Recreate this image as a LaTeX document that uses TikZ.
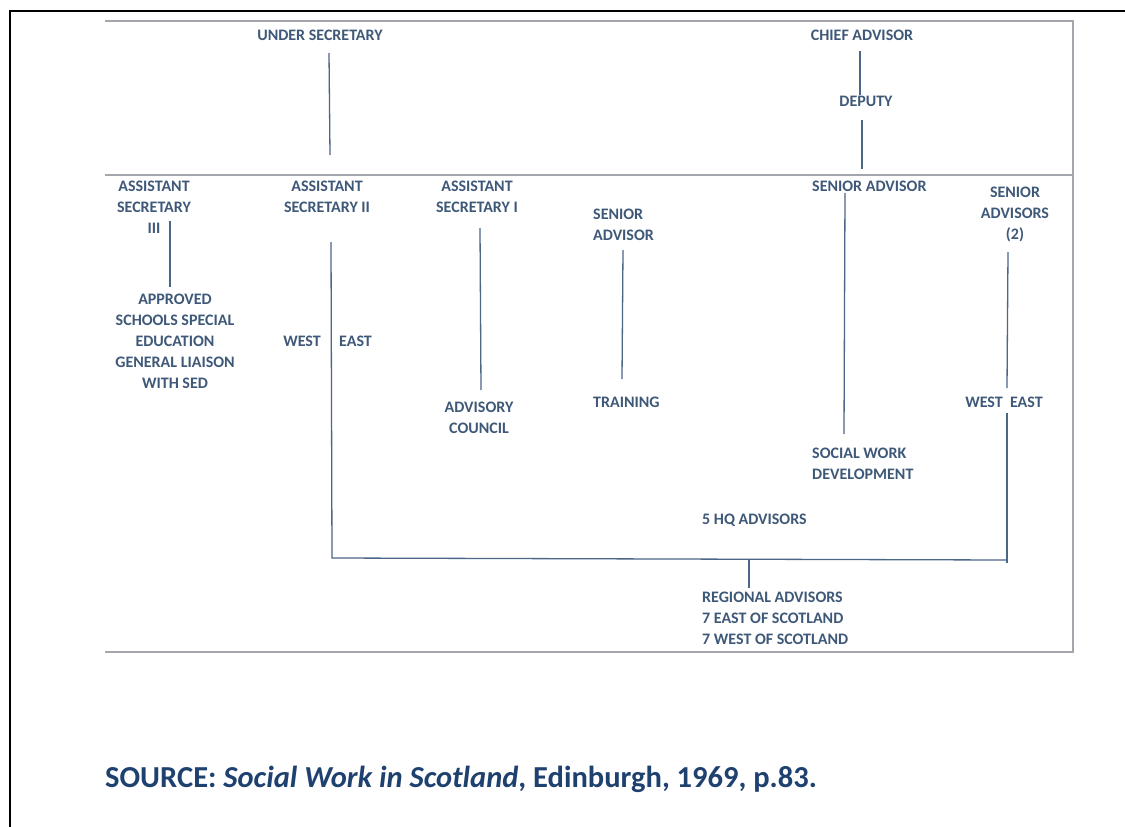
\documentclass[tikz,border=0pt]{standalone}
\usepackage{fontspec}
\setmainfont{Carlito}
\definecolor{txt}{HTML}{3E5878}
\definecolor{ln}{HTML}{4B6687}
\definecolor{frm}{HTML}{A3A7AD}
\definecolor{src}{HTML}{1F4170}
\tikzset{
  lbl/.style={font=\bfseries\fontsize{16}{21}\selectfont, text=txt, align=center, inner sep=0pt},
  srcfont/.style={font=\bfseries\fontsize{30.5}{34}\selectfont, text=src, inner sep=0pt},
  conn/.style={draw=ln, line width=1.3pt},
  panel/.style={draw=frm, line width=1.1pt},
  outer/.style={draw=black, line width=2pt}
}
\begin{document}
\begin{tikzpicture}[x=1pt,y=-1pt]
\useasboundingbox (0,0) rectangle (1125,827);
% outer frame
\draw[outer] (10,11) -- (1125,11);
\draw[outer] (10,10) -- (10,827);
% panel
\draw[panel] (105,21) -- (1073,21) -- (1073,652) -- (105,652);
\draw[panel] (105,175) -- (1073,175);
% labels
\node[lbl] (us) at (320,35) {UNDER SECRETARY};
\node[lbl] (ca) at (862,35) {CHIEF ADVISOR};
\node[lbl] (dep) at (866,101) {DEPUTY};
\node[lbl] (as3) at (154,207) {ASSISTANT\\SECRETARY\\III};
\node[lbl] (appr) at (175,341) {APPROVED\\SCHOOLS SPECIAL\\EDUCATION\\GENERAL LIAISON\\WITH SED};
\node[lbl] (as2) at (327,197) {ASSISTANT\\SECRETARY II};
\node[lbl, anchor=east] (west1) at (321,341) {WEST};
\node[lbl, anchor=west] (east1) at (339,341) {EAST};
\node[lbl] (as1) at (477,197) {ASSISTANT\\SECRETARY I};
\node[lbl] (ac) at (479,418) {ADVISORY\\COUNCIL};
\node[lbl, anchor=west, align=left] (sa1) at (593,225) {SENIOR\\ADVISOR};
\node[lbl, anchor=west] (tr) at (593,402) {TRAINING};
\node[lbl, anchor=west] (sa2) at (812,186) {SENIOR ADVISOR};
\node[lbl, anchor=west, align=left] (swd) at (812,464) {SOCIAL WORK\\DEVELOPMENT};
\node[lbl] (sas) at (1015,214) {SENIOR\\ADVISORS\\(2)};
\node[lbl] (we) at (1004,402) {WEST\ \ EAST};
\node[lbl, anchor=west] (hq) at (702,520) {5 HQ ADVISORS};
\node[lbl, anchor=west, align=left] (reg) at (702,618) {REGIONAL ADVISORS\\7 EAST OF SCOTLAND\\7 WEST OF SCOTLAND};
\node[srcfont, anchor=base west] (source) at (105,787) {SOURCE: \textit{Social Work in Scotland}, Edinburgh, 1969, p.83.};
% connector end points
\coordinate (usb) at (329,53);   \coordinate (as2t) at (330,155);
\coordinate (cab) at (860,51);   \coordinate (dept) at (860,95);
\coordinate (depb) at (862,120); \coordinate (sa2t) at (862,169);
\coordinate (as3b) at (170,221); \coordinate (apprt) at (170,287);
\coordinate (as2b) at (331,242); \coordinate (hl) at (332,558);
\coordinate (hr) at (1006,560);  \coordinate (web) at (1007,413); \coordinate (hre) at (1007,563);
\coordinate (sasb) at (1008,252); \coordinate (wet) at (1007,388);
\coordinate (regj) at (749,559); \coordinate (regt) at (749,588);
\coordinate (as1b) at (480,228); \coordinate (act) at (481,390);
\coordinate (sa1b) at (623,250); \coordinate (trt) at (622,379);
\coordinate (sa2b) at (845,193); \coordinate (swdt) at (844,434);
% connectors
\draw[conn] (usb) -- (as2t);
\draw[conn] (cab) -- (dept);
\draw[conn] (depb) -- (sa2t);
\draw[conn] (as3b) -- (apprt);
\draw[conn] (as2b) -- (hl) -- (hr);
\draw[conn] (web) -- (hre);
\draw[conn] (sasb) -- (wet);
\draw[conn] (regj) -- (regt);
\draw[conn] (as1b) -- (act);
\draw[conn] (sa1b) -- (trt);
\draw[conn] (sa2b) -- (swdt);
\end{tikzpicture}
\end{document}
